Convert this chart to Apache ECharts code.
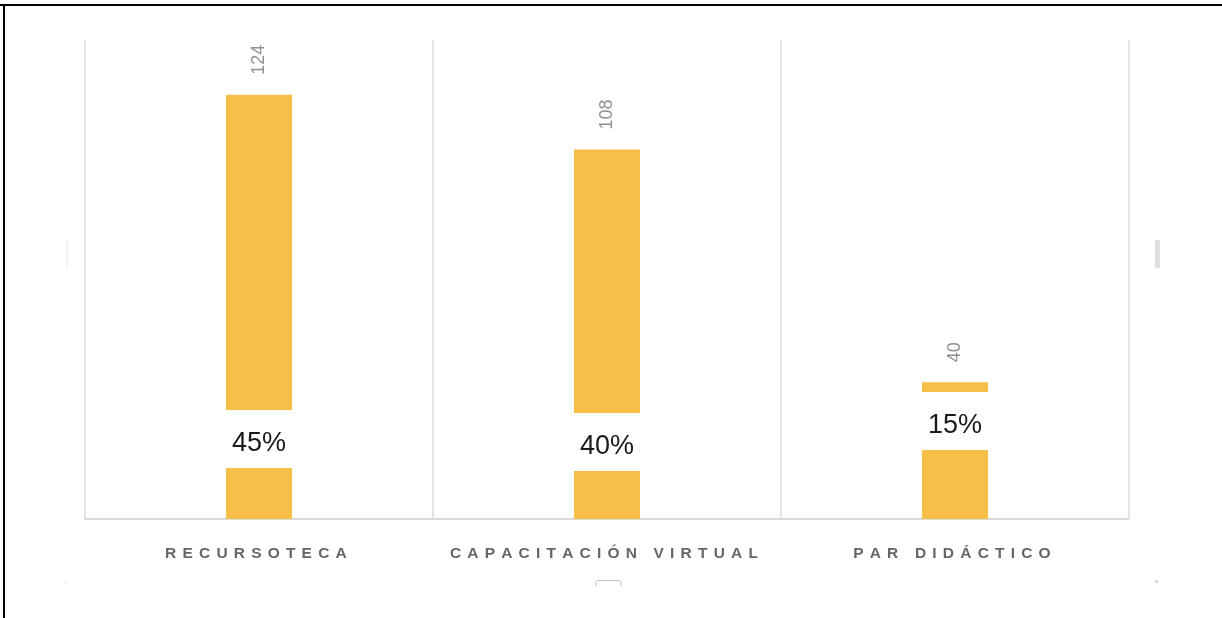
<!DOCTYPE html>
<html>
<head>
<meta charset="utf-8">
<title>Recursos</title>
<script src="https://cdn.jsdelivr.net/npm/echarts@6/dist/echarts.min.js"></script>
<style>
  html, body { margin: 0; padding: 0; background: #fff; }
  #chart { width: 1222px; height: 618px; }
</style>
</head>
<body>
<div id="chart"></div>
<script>
// Categories and counts per resource
const categories = ['RECURSOTECA', 'CAPACITACIÓN VIRTUAL', 'PAR DIDÁCTICO'];
const counts = [124, 108, 40];
const shares = [45, 40, 15];

// Lift of each share label above the baseline (px)
const shareLabelLift = [51, 48, 69];

// Tracked (letter-spaced) axis titles: every letter is followed by a
// narrow gap token, trailing one included
const tracked = s => s.split('').map(ch => '{c|' + ch + '}{g|\u2002}').join('');

const chart = echarts.init(document.getElementById('chart'), null, { renderer: 'canvas' });

const labelFont = 'Liberation Sans, Arial, sans-serif';

chart.setOption({
  animation: false,
  backgroundColor: '#ffffff',
  grid: { left: 85, right: 93, top: 40, bottom: 99 },
  xAxis: {
    type: 'category',
    data: categories,
    boundaryGap: true,
    axisLine: { show: true, lineStyle: { color: '#d9d9d9', width: 2 } },
    axisTick: { show: false },
    splitLine: { show: true, interval: 0, lineStyle: { color: '#dcdcdc', width: 1.5 } },
    axisLabel: {
      interval: 0,
      hideOverlap: false,
      margin: 26,
      color: '#666666',
      fontFamily: labelFont,
      fontWeight: 'bold',
      fontSize: 15.5,
      formatter: v => tracked(v),
      rich: {
        c: { color: '#666666', fontFamily: labelFont, fontWeight: 'bold', fontSize: 15.5, lineHeight: 18 },
        g: { fontFamily: labelFont, fontSize: 12.4, lineHeight: 18 }
      }
    }
  },
  yAxis: {
    type: 'value',
    min: 0,
    max: 140,
    show: false,
    splitLine: { show: false }
  },
  series: [
    {
      name: 'Total',
      type: 'bar',
      data: counts,
      barWidth: 66,
      itemStyle: { color: '#F7BF47' },
      label: {
        show: true,
        position: 'top',
        rotate: 90,
        align: 'left',
        verticalAlign: 'middle',
        distance: 20,
        color: '#8f8f8f',
        fontFamily: labelFont,
        fontSize: 18
      },
      z: 2
    },
    {
      name: 'Porcentaje',
      type: 'bar',
      barWidth: 66,
      barGap: '-100%',
      data: counts.map((v, i) => ({
        value: v,
        label: { distance: shareLabelLift[i] }
      })),
      itemStyle: { color: 'rgba(0,0,0,0)' },
      label: {
        show: true,
        position: 'insideBottom',
        formatter: p => shares[p.dataIndex] + '%',
        color: '#1a1a1a',
        fontFamily: labelFont,
        fontSize: 27,
        lineHeight: 30,
        backgroundColor: '#ffffff',
        padding: [19, 10, 9, 10]
      },
      silent: true,
      z: 3
    }
  ],
  graphic: [
    // frame edges
    { type: 'rect', shape: { x: 0, y: 4, width: 1222, height: 2 }, style: { fill: '#000' } },
    { type: 'rect', shape: { x: 3, y: 4, width: 2, height: 614 }, style: { fill: '#000' } },
    // resize handles of the chart object
    { type: 'rect', shape: { x: 1155, y: 240, width: 5, height: 28 }, style: { fill: '#dedede' } },
    { type: 'rect', shape: { x: 66, y: 240, width: 2, height: 28 }, style: { fill: '#f3f3f3' } },
    { type: 'rect', shape: { x: 596, y: 580.5, width: 25, height: 8, r: 2 }, style: { fill: 'none', stroke: '#c4c4c4', lineWidth: 1 } },
    { type: 'rect', shape: { x: 596, y: 586, width: 26, height: 6 }, style: { fill: '#fff' } },
    { type: 'rect', shape: { x: 1155, y: 580, width: 3, height: 3 }, style: { fill: '#d8d8d8' } },
    { type: 'rect', shape: { x: 64, y: 581, width: 3, height: 2 }, style: { fill: '#f0f0f0' } }
  ]
});
</script>
</body>
</html>
